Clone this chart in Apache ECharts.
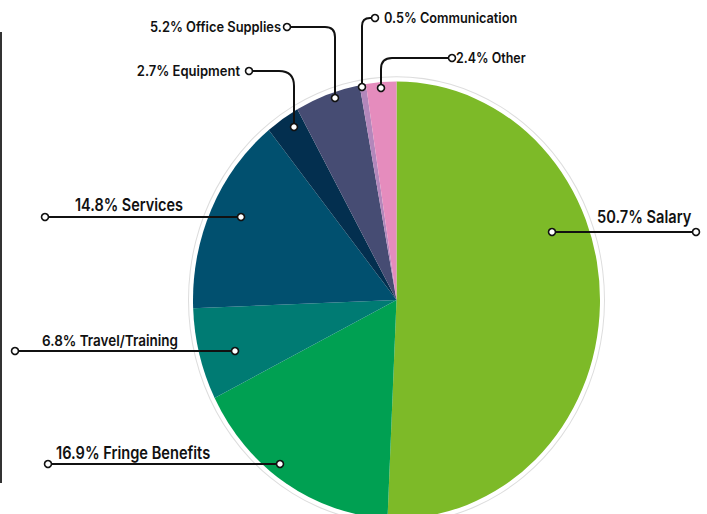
<!DOCTYPE html>
<html lang="en">
<head>
<meta charset="utf-8" />
<style>
  html, body { margin: 0; padding: 0; background: #fff; }
  #wrap { position: relative; width: 707px; height: 514px; overflow: hidden; }
  #pie, #notes { position: absolute; left: 0; top: 0; width: 707px; height: 514px; }
  /* the source pie is a little taller than it is wide */
  #pie { transform: scaleY(1.0735); transform-origin: 0 300px; }
</style>
</head>
<body>
<div id="wrap">
  <div id="pie"></div>
  <div id="notes"></div>
</div>
<script src="https://cdn.jsdelivr.net/npm/echarts@6/dist/echarts.min.js"></script>
<script>
var categories = ["Salary", "Fringe Benefits", "Travel/Training", "Services", "Equipment", "Office Supplies", "Communication", "Other"];
var shares = [50.7, 16.9, 6.8, 14.8, 2.7, 5.2, 0.5, 2.4];
var colors = ["#7dba28", "#00a052", "#007b73", "#01506f", "#032f4f", "#464c73", "#b387bb", "#e58cbd"];

// label placement: text anchor x, text middle y, align, font size, squeeze,
// leader as points (outer dot, optional corner [start, control, end], inner dot)
var notes = [
  { x: 597, y: 217, align: "left", size: 17, sx: 0.86, from: [696, 232], to: [552, 232] },
  { x: 56, y: 453, align: "left", size: 17, sx: 0.86, from: [48, 464], to: [280, 464] },
  { x: 42, y: 340, align: "left", size: 15, sx: 0.9, from: [15, 351], to: [235, 351] },
  { x: 75, y: 205, align: "left", size: 17, sx: 0.85, from: [45, 217], to: [241, 217] },
  { x: 240, y: 71, align: "right", size: 14, sx: 0.93, from: [249, 71], corner: [[279, 71], [294, 71], [294, 86]], to: [294, 127] },
  { x: 281, y: 27, align: "right", size: 14, sx: 0.92, from: [287, 27], corner: [[325, 27], [335, 27], [335, 37]], to: [335, 98] },
  { x: 384, y: 18, align: "left", size: 14, sx: 0.91, from: [375, 18], corner: [[370, 18], [362, 18], [362, 26]], to: [362, 87] },
  { x: 456, y: 58, align: "left", size: 14, sx: 0.89, from: [452, 58], corner: [[392, 58], [381, 58], [381, 69]], to: [381, 88] }
];

var pieChart = echarts.init(document.getElementById("pie"), null, { renderer: "svg" });
pieChart.setOption({
  animation: false,
  series: [
    {
      type: "pie",
      silent: true,
      center: [396.5, 300],
      radius: [207.5, 208.5],
      label: { show: false },
      labelLine: { show: false },
      data: [{ value: 1, itemStyle: { color: "#dddddd" } }]
    },
    {
      type: "pie",
      center: [396.5, 300],
      radius: 203.5,
      startAngle: 90,
      clockwise: true,
      avoidLabelOverlap: false,
      label: { show: false },
      labelLine: { show: false },
      data: categories.map(function (name, i) {
        return { name: name, value: shares[i], itemStyle: { color: colors[i] } };
      })
    }
  ]
});

var ink = "#111";
var graphics = [
  { type: "line", shape: { x1: 1, y1: 32, x2: 1, y2: 483 }, style: { stroke: "#333", lineWidth: 2 } }
];
function seg(a, b) {
  graphics.push({ type: "line", shape: { x1: a[0], y1: a[1], x2: b[0], y2: b[1] }, style: { stroke: ink, lineWidth: 2 } });
}
notes.forEach(function (n, i) {
  if (n.corner) {
    var c = n.corner;
    seg(n.from, c[0]);
    graphics.push({
      type: "bezierCurve",
      shape: { x1: c[0][0], y1: c[0][1], cpx1: c[1][0], cpy1: c[1][1], x2: c[2][0], y2: c[2][1] },
      style: { fill: null, stroke: ink, lineWidth: 2 }
    });
    seg(c[2], n.to);
  } else {
    seg(n.from, n.to);
  }
  [n.from, n.to].forEach(function (d) {
    graphics.push({
      type: "circle",
      shape: { cx: d[0], cy: d[1], r: 3.5 },
      style: { fill: "#fff", stroke: ink, lineWidth: 1.6 },
      z: 110
    });
  });
  graphics.push({
    type: "text",
    x: n.x,
    y: n.y,
    scaleX: n.sx,
    style: {
      text: shares[i] + "% " + categories[i],
      x: 0,
      y: 0,
      align: n.align,
      verticalAlign: "middle",
      font: "600 " + n.size + "px Inter",
      fill: ink
    }
  });
});

var notesChart = echarts.init(document.getElementById("notes"), null, { renderer: "svg" });
notesChart.setOption({ animation: false, graphic: graphics });
</script>
</body>
</html>
